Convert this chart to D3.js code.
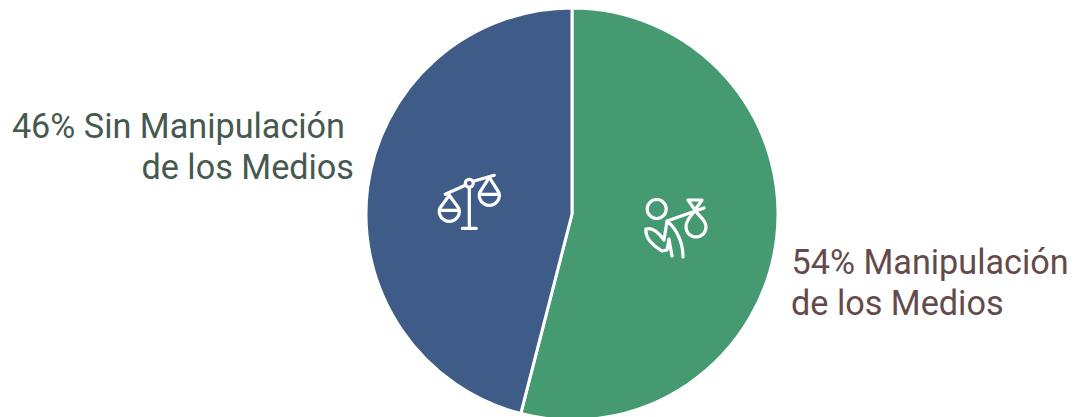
<!DOCTYPE html>
<html>
<head>
<meta charset="utf-8">
<script src="https://cdn.jsdelivr.net/npm/d3@7"></script>
<style>
  html, body { margin: 0; padding: 0; background: #fff; }
  svg { display: block; }
  text { font-family: Roboto, sans-serif; font-size: 34.2px; }
</style>
</head>
<body>
<svg id="chart" width="1075" height="417"></svg>
<script>
const categories = ["Manipulación de los Medios", "Sin Manipulación de los Medios"];
const shares = [54, 46];
const sliceColors = ["#459a71", "#3f5c88"];
const labelLines = [
  ["54% Manipulación", "de los Medios"],
  ["46% Sin Manipulación", "de los Medios"]
];
const labelColors = ["#644a4a", "#46594f"];

const svg = d3.select("#chart");
const cx = 572, cy = 214, radius = 206;

const pie = d3.pie().sort(null).value(d => d.value);
const arc = d3.arc().innerRadius(0).outerRadius(radius);
const slices = pie(categories.map((name, i) => ({ name, value: shares[i] })));

const plot = svg.append("g").attr("transform", `translate(${cx},${cy})`);
plot.selectAll("path")
  .data(slices)
  .join("path")
  .attr("d", arc)
  .attr("fill", (d, i) => sliceColors[i])
  .attr("stroke", "#fff")
  .attr("stroke-width", 3)
  .attr("stroke-linejoin", "round");

// Captions beside each slice: right slice left-aligned, left slice right-aligned
const captions = [
  { x: 791.5, y: 274, anchor: "start", dyLine: 41, x2: 791 },
  { x: 345, y: 138, anchor: "end", dyLine: 41, x2: 354 }
];
captions.forEach((c, i) => {
  labelLines[i].forEach((line, j) => {
    svg.append("text")
      .attr("x", j === 0 ? c.x : c.x2)
      .attr("y", c.y + j * c.dyLine)
      .attr("text-anchor", c.anchor)
      .attr("fill", labelColors[i])
      .text(line);
  });
});

// Slice pictograms
const icons = svg.append("g")
  .attr("fill", "none")
  .attr("stroke", "#fff")
  .attr("stroke-width", 3.2)
  .attr("stroke-linecap", "round")
  .attr("stroke-linejoin", "round");

// Balance scale
const scale = icons.append("g").attr("transform", "translate(469.3,183.3)");
scale.append("circle").attr("r", 4);
scale.append("path").attr("d", [
  "M-24,11 L-4,2", "M4,-2 L25,-8",
  "M0,4 V45", "M-7,45 H7",
  "M-20,12 L-29.5,25 A10,10 0 1 0 -10.5,25 Z", "M-30,27 H-10",
  "M20,-6 L10.5,9 A10,10 0 1 0 29.5,9 Z", "M10,11 H30"
].join(" "));

// Figure carrying a bundle on a stick
const carrier = icons.append("g").attr("transform", "translate(630,185)");
carrier.append("circle").attr("cx", 26.7).attr("cy", 24).attr("r", 9.5);
carrier.append("path").attr("d", [
  "M37,36 L74,23",
  "M65,25 C62,31 56,34 56,42 A10,10 0 1 0 76,42 C76,34 68,31 65,25",
  "M65,25 L58,15 L72,15 Z",
  "M16,44 C15,52 22,60 32,66 L37,65 L39,54 L42,71",
  "M16,44 C22,42 29,48 34,55 L37,36",
  "M37,36 C47,44 53,58 53,72"
].join(" "));
</script>
</body>
</html>
